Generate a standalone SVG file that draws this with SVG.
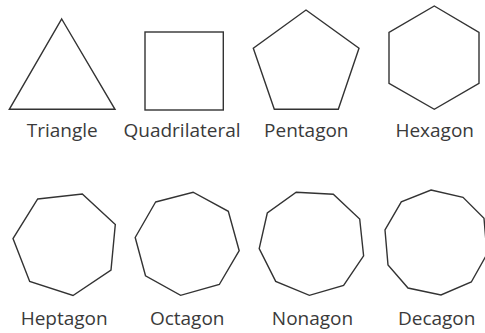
<svg xmlns="http://www.w3.org/2000/svg" width="485" height="333" viewBox="0 0 485 333">
<style>
.s{fill:none;stroke:#333;stroke-width:1.4;stroke-linejoin:miter}
.t{font-family:"Open Sans","DejaVu Sans",sans-serif;font-size:19px;fill:#3a3a3a;text-anchor:middle}
</style>
<rect width="485" height="333" fill="#fff"/>
<g id="connectors"/>
<g id="triangle">
<polygon class="s" points="61.7,19 115,109.3 9.3,109.3"/>
<text class="t" x="62.2" y="136.7">Triangle</text>
</g>
<g id="quadrilateral">
<rect class="s" x="145" y="32" width="78.3" height="78"/>
<text class="t" x="182" y="136.7">Quadrilateral</text>
</g>
<g id="pentagon">
<polygon class="s" points="306,10 359,48.3 338.3,109.3 274.3,109.3 253.3,48.3"/>
<text class="t" x="306.3" y="136.7">Pentagon</text>
</g>
<g id="hexagon">
<polygon class="s" points="434.3,6 479,32.3 479,83.3 434.3,109.3 389,83.3 389,32.3"/>
<text class="t" x="434.7" y="136.7">Hexagon</text>
</g>
<g id="heptagon">
<polygon class="s" points="37.7,199 82.3,194 115.3,224.6 111,270 73,295.5 29.7,281.5 13,238.6"/>
<text class="t" x="64.2" y="325.3">Heptagon</text>
</g>
<g id="octagon">
<polygon class="s" points="155.6,202 193.1,192.2 228.3,211.3 239.2,250.7 219.3,284.5 180.6,295.3 145.5,275.8 135.2,237.5"/>
<text class="t" x="187.2" y="325.3">Octagon</text>
</g>
<g id="nonagon">
<polygon class="s" points="296.2,192.2 333.3,194.3 359.7,219 363.6,255.8 343.6,285.3 309.4,295.3 275.7,281.4 259.2,248.6 267.3,213"/>
<text class="t" x="312.5" y="325.3">Nonagon</text>
</g>
<g id="decagon">
<polygon class="s" points="431,190 463,197.3 484,218.3 487,254 471.3,282 441,295 408,288 388,265 385,230 401.3,201.8"/>
<text class="t" x="436.7" y="325.3">Decagon</text>
</g>
</svg>
